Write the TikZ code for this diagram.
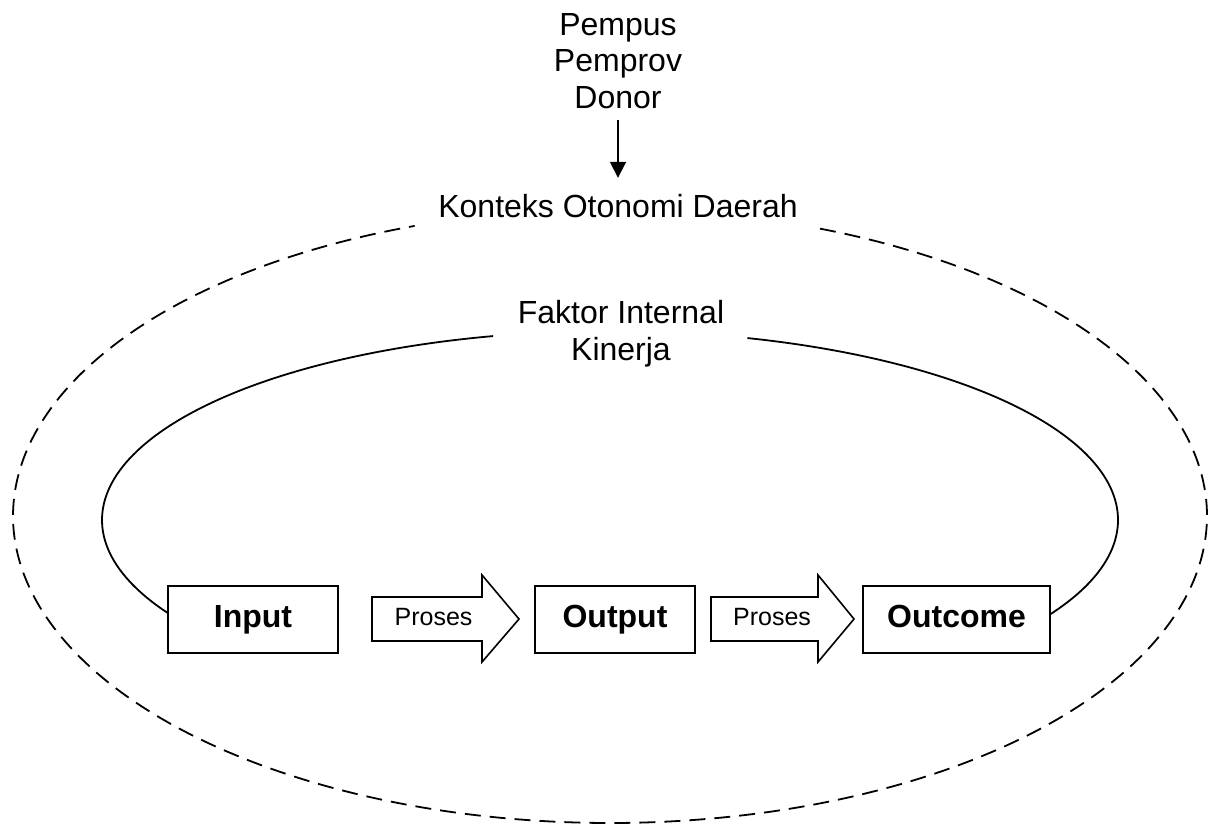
\documentclass[tikz,border=0pt]{standalone}
\usepackage{fontspec}
\setmainfont{Liberation Sans}
\usetikzlibrary{arrows.meta}
\begin{document}
\begin{tikzpicture}[x=0.5pt,y=-0.5pt,
  lbl/.style={font=\fontsize{16}{18.25}\selectfont, inner sep=0pt, align=center},
  stage/.style={draw, line width=1pt, fill=white, inner sep=0pt, minimum height=33.5pt,
    text height=11.5pt, text depth=4pt, font=\fontsize{16}{18}\selectfont\bfseries},
  procarrow/.style={draw, line width=0.8pt, line join=miter},
  proc/.style={inner sep=0pt, anchor=base, font=\fontsize{12.5}{14}\selectfont},
  ctxline/.style={dash pattern=on 8pt off 4.5pt, line width=0.9pt},
  inline/.style={line width=0.9pt}]
\useasboundingbox (0,0) rectangle (1208,825);

% outer dashed context ellipse (gap at top for the label)
\draw[ctxline] plot[domain=290.6:610.9, samples=300, smooth] ({610+597*cos(\x)},{516+307*sin(\x)});

% inner solid curve (gap at top for the label)
\draw[inline] plot[domain=150:256.7, samples=150, smooth] ({610+508*cos(\x)},{520+189*sin(\x)});
\draw[inline] plot[domain=285.7:390, samples=150, smooth] ({610+508*cos(\x)},{520+189*sin(\x)});

% labels
\node[lbl, anchor=north] (src) at (618,13) {Pempus\\Pemprov\\Donor};
\node[lbl, anchor=base] (ctx) at (618,217) {Konteks Otonomi Daerah};
\node[lbl, anchor=north] (fak) at (621,300) {Faktor Internal\\Kinerja};

\draw[-{Triangle[width=8pt,length=8pt]}, line width=0.9pt, shorten <=5.5pt, shorten >=7.8pt] (src) -- (ctx);

% stage boxes
\node[stage, minimum width=85pt] (in) at (253,619.5) {Input};
\node[stage, minimum width=80pt] (out) at (615,619.5) {Output};
\node[stage, minimum width=93.5pt] (oc) at (956.5,619.5) {Outcome};

% process block arrows
\draw[procarrow] (372,597) -- (482,597) -- (482,575) -- (519,619) -- (482,662) -- (482,641) -- (372,641) -- cycle;
\node[proc] (p1) at (433.5,625.7) {Proses};
\draw[procarrow] (711,597) -- (818,597) -- (818,575) -- (854,619) -- (818,662) -- (818,641) -- (711,641) -- cycle;
\node[proc] (p2) at (772,625.7) {Proses};
\end{tikzpicture}
\end{document}
